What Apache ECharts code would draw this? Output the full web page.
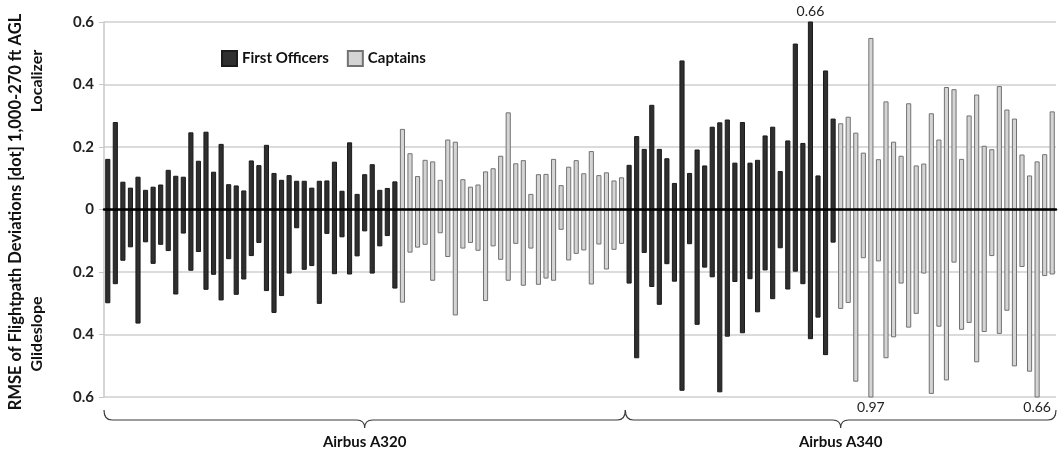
<!DOCTYPE html>
<html>
<head>
<meta charset="utf-8">
<script src="https://cdn.jsdelivr.net/npm/echarts@6/dist/echarts.min.js"></script>
<style>
  html, body { margin: 0; padding: 0; background: #fff; }
  #chart { width: 1062px; height: 457px; }
</style>
</head>
<body>
<div id="chart"></div>
<script>
// RMSE per pilot, localizer (up) and glideslope (down), in dots
var a320FoLoc = [0.162,0.280,0.089,0.070,0.105,0.063,0.073,0.080,0.127,0.108,0.105,0.247,0.156,0.249,0.121,0.210,0.081,0.077,0.061,0.157,0.142,0.207,0.117,0.095,0.110,0.092,0.092,0.070,0.092,0.093,0.153,0.060,0.215,0.050,0.113,0.145,0.063,0.069,0.090];
var a320FoGs  = [0.300,0.239,0.164,0.121,0.365,0.105,0.174,0.113,0.133,0.272,0.077,0.196,0.136,0.257,0.209,0.291,0.159,0.273,0.224,0.149,0.107,0.261,0.331,0.277,0.205,0.060,0.193,0.181,0.302,0.078,0.207,0.089,0.208,0.150,0.070,0.205,0.118,0.085,0.253];
var a320CptLoc = [0.258,0.180,0.107,0.159,0.154,0.095,0.224,0.217,0.097,0.073,0.080,0.122,0.132,0.172,0.311,0.148,0.158,0.050,0.113,0.114,0.162,0.078,0.137,0.158,0.116,0.187,0.110,0.119,0.093,0.103];
var a320CptGs  = [0.298,0.138,0.122,0.113,0.228,0.076,0.152,0.339,0.125,0.107,0.132,0.293,0.118,0.161,0.228,0.110,0.244,0.125,0.241,0.221,0.228,0.065,0.163,0.142,0.131,0.240,0.112,0.192,0.129,0.110];
var a340FoLoc = [0.143,0.235,0.194,0.335,0.194,0.164,0.085,0.477,0.117,0.192,0.141,0.265,0.279,0.288,0.150,0.280,0.150,0.159,0.237,0.265,0.123,0.221,0.531,0.213,0.66,0.109,0.445,0.291];
var a340FoGs  = [0.237,0.476,0.139,0.248,0.305,0.175,0.231,0.580,0.111,0.369,0.186,0.217,0.585,0.407,0.232,0.396,0.223,0.329,0.195,0.287,0.124,0.256,0.199,0.239,0.415,0.346,0.466,0.106];
var a340CptLoc = [0.276,0.297,0.246,0.182,0.549,0.161,0.346,0.217,0.172,0.340,0.141,0.147,0.308,0.224,0.392,0.385,0.162,0.301,0.368,0.204,0.193,0.395,0.320,0.291,0.176,0.109,0.154,0.177,0.314];
var a340CptGs  = [0.318,0.299,0.551,0.156,0.97,0.166,0.476,0.409,0.237,0.378,0.334,0.205,0.590,0.375,0.547,0.170,0.385,0.363,0.489,0.392,0.149,0.398,0.324,0.502,0.184,0.519,0.66,0.213,0.208];

var aircraft = ["Airbus A320", "Airbus A340"];
var yTicks = [-0.6, -0.4, -0.2, 0, 0.2, 0.4, 0.6];

var font = "Lato";
var darkFill = "#2f2f2f", darkBorder = "#1b1b1b";
var lightFill = "#d4d4d4", lightBorder = "#727272";

// lay the four blocks one after another on the category axis
var blocks = [
  { role: "fo", loc: a320FoLoc, gs: a320FoGs },
  { role: "cpt", loc: a320CptLoc, gs: a320CptGs },
  { role: "fo", loc: a340FoLoc, gs: a340FoGs },
  { role: "cpt", loc: a340CptLoc, gs: a340CptGs }
];
var categories = [];
var foLoc = [], foGs = [], cptLoc = [], cptGs = [];
blocks.forEach(function (b) {
  for (var i = 0; i < b.loc.length; i++) {
    categories.push(String(categories.length + 1));
    var up = item(b.loc[i], "top");
    var down = item(-b.gs[i], "bottom");
    if (b.role === "fo") { foLoc.push(up); foGs.push(down); cptLoc.push("-"); cptGs.push("-"); }
    else { cptLoc.push(up); cptGs.push(down); foLoc.push("-"); foGs.push("-"); }
  }
});
var a320Count = a320FoLoc.length + a320CptLoc.length;
var braces = [[0, a320Count - 1], [a320Count, categories.length - 1]];

// values beyond the axis get clipped, so print the real number
function item(v, pos) {
  if (Math.abs(v) <= 0.6) return v;
  return {
    value: v,
    label: {
      show: true, position: pos, distance: 3,
      formatter: String(Math.abs(v)),
      fontFamily: font, fontSize: 14, color: "#222"
    }
  };
}

function barSeries(name, data, fill, border) {
  return {
    name: name, type: "bar", stack: "pilot", data: data,
    barWidth: "68%", clip: true,
    itemStyle: { color: fill, borderColor: border, borderWidth: 1 },
    emphasis: { disabled: true }
  };
}

var chart = echarts.init(document.getElementById("chart"));
chart.setOption({
  animation: false,
  textStyle: { fontFamily: font },
  grid: { left: 104, right: 6, top: 22, bottom: 60 },
  legend: {
    data: ["First Officers", "Captains"],
    left: 216, top: 45,
    icon: "rect", itemWidth: 15, itemHeight: 15, itemGap: 18,
    textStyle: { fontFamily: font, fontSize: 15, fontWeight: "bold", color: "#111" }
  },
  xAxis: {
    type: "category", data: categories,
    z: 5,
    axisLine: { onZero: true, lineStyle: { color: "#000", width: 2.5 } },
    axisTick: { show: false },
    axisLabel: { show: false },
    splitLine: { show: false }
  },
  yAxis: {
    type: "value", min: -0.6, max: 0.6, interval: 0.2,
    axisLine: { show: true, lineStyle: { color: "#c8c8c8", width: 1.5 } },
    axisTick: { show: true, length: 5, lineStyle: { color: "#c8c8c8" } },
    axisLabel: {
      margin: 10, fontFamily: font, fontSize: 15, fontWeight: "bold", color: "#222",
      formatter: function (v) { return String(Math.abs(Math.round(v * 10) / 10)); }
    },
    splitLine: { lineStyle: { color: "#cfcfcf", width: 1.5 } }
  },
  series: [
    barSeries("First Officers", foLoc, darkFill, darkBorder),
    barSeries("First Officers", foGs, darkFill, darkBorder),
    barSeries("Captains", cptLoc, lightFill, lightBorder),
    barSeries("Captains", cptGs, lightFill, lightBorder),
    {
      type: "custom",
      data: braces,
      encode: { x: [0, 1] },
      clip: false,
      silent: true,
      renderItem: function (params, api) {
        var half = api.size([1, 0])[0] / 2;
        var L = api.coord([api.value(0), -0.6])[0] - half;
        var R = api.coord([api.value(1), -0.6])[0] + half;
        var base = api.coord([api.value(0), -0.6])[1];
        var M = (L + R) / 2;
        var y0 = base + 13, y1 = base + 23, y2 = base + 31, r = 8;
        var d = "M" + L + "," + y0 +
          " Q" + L + "," + y1 + " " + (L + r) + "," + y1 +
          " L" + (M - r) + "," + y1 +
          " Q" + M + "," + y1 + " " + M + "," + y2 +
          " Q" + M + "," + y1 + " " + (M + r) + "," + y1 +
          " L" + (R - r) + "," + y1 +
          " Q" + R + "," + y1 + " " + R + "," + y0;
        return {
          type: "group",
          children: [
            { type: "path", shape: { pathData: d }, style: { fill: "none", stroke: "#3a3a3a", lineWidth: 1.2 } },
            {
              type: "text",
              style: {
                text: aircraft[params.dataIndex], x: M, y: base + 45,
                align: "center", verticalAlign: "middle",
                font: "bold 15px " + font, fill: "#111"
              }
            }
          ]
        };
      }
    }
  ],
  graphic: [
    {
      type: "text", x: 16, y: 212, rotation: Math.PI / 2,
      style: {
        text: "RMSE of Flightpath Deviations [dot] 1,000-270 ft AGL",
        align: "center", verticalAlign: "middle",
        font: "bold 16.5px " + font, fill: "#111"
      }
    },
    {
      type: "text", x: 37, y: 81, rotation: Math.PI / 2,
      style: { text: "Localizer", align: "center", verticalAlign: "middle", font: "bold 16px " + font, fill: "#111" }
    },
    {
      type: "text", x: 37, y: 334, rotation: Math.PI / 2,
      style: { text: "Glideslope", align: "center", verticalAlign: "middle", font: "bold 16px " + font, fill: "#111" }
    }
  ]
});
</script>
</body>
</html>
